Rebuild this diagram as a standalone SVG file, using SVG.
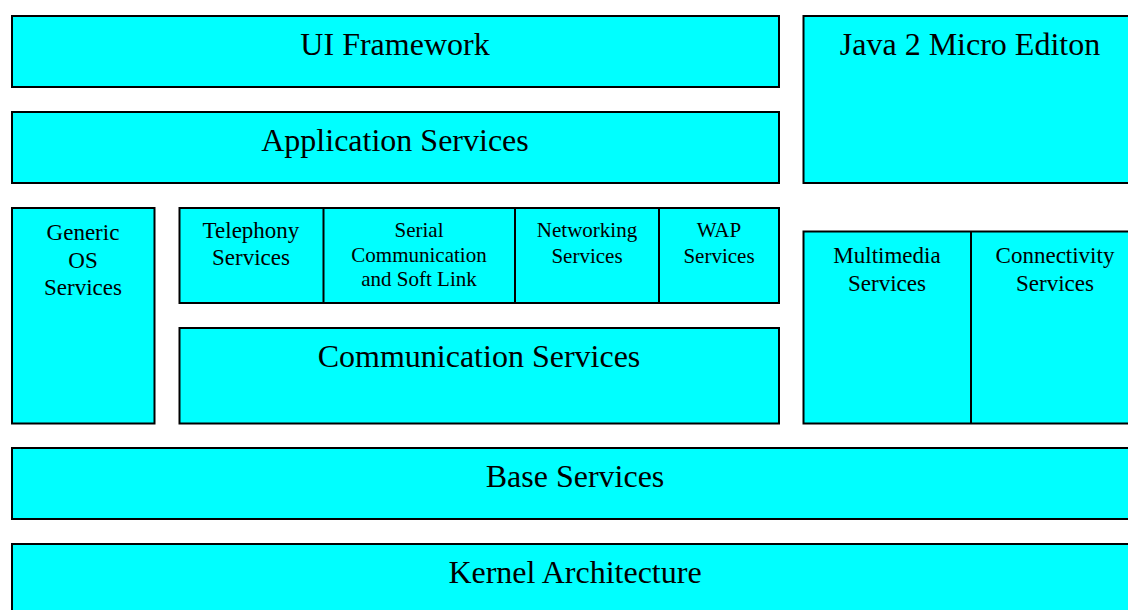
<svg xmlns="http://www.w3.org/2000/svg" width="1128" height="610" viewBox="0 0 1128 610">
  <style>
    .box { fill: #00FFFF; stroke: #000000; stroke-width: 2; }
    .div { stroke: #000000; stroke-width: 2; fill: none; }
    text { font-family: "Liberation Serif", "Times New Roman", serif; fill: #000000; text-anchor: middle; }
    .big { font-size: 32px; }
    .mid { font-size: 23px; }
    .small { font-size: 21px; }
  </style>
  <rect width="1128" height="610" fill="#FFFFFF"/>

  <g id="ui-framework">
    <rect class="box" x="12" y="16" width="767" height="71"/>
    <text class="big" x="395" y="55">UI Framework</text>
  </g>

  <g id="application-services">
    <rect class="box" x="12" y="112" width="767" height="71"/>
    <text class="big" x="395" y="151">Application Services</text>
  </g>

  <g id="java-me">
    <rect class="box" x="803.5" y="16" width="334.5" height="167"/>
    <text class="big" x="970" y="55">Java 2 Micro Editon</text>
  </g>

  <g id="generic-os-services">
    <rect class="box" x="12" y="208" width="142.5" height="215.5"/>
    <text class="mid" x="83" y="240">Generic</text>
    <text class="mid" x="83" y="268">OS</text>
    <text class="mid" x="83" y="295">Services</text>
  </g>

  <g id="comm-modules">
    <rect class="box" x="179.5" y="208" width="599.5" height="95"/>
    <line class="div" x1="323.5" y1="208" x2="323.5" y2="303"/>
    <line class="div" x1="515" y1="208" x2="515" y2="303"/>
    <line class="div" x1="659" y1="208" x2="659" y2="303"/>
  </g>

  <g id="telephony-services">
    <text class="mid" x="251" y="238">Telephony</text>
    <text class="mid" x="251" y="265">Services</text>
  </g>

  <g id="serial-communication">
    <text class="small" x="419" y="237">Serial</text>
    <text class="small" x="419" y="262">Communication</text>
    <text class="small" x="419" y="286">and Soft Link</text>
  </g>

  <g id="networking-services">
    <text class="small" x="587" y="237">Networking</text>
    <text class="small" x="587" y="263">Services</text>
  </g>

  <g id="wap-services">
    <text class="small" x="719" y="237">WAP</text>
    <text class="small" x="719" y="263">Services</text>
  </g>

  <g id="communication-services">
    <rect class="box" x="179.5" y="328" width="599.5" height="95.5"/>
    <text class="big" x="479" y="367">Communication Services</text>
  </g>

  <g id="multimedia-connectivity">
    <rect class="box" x="803.5" y="231.5" width="334.5" height="192"/>
    <line class="div" x1="971" y1="231.5" x2="971" y2="423.5"/>
  </g>

  <g id="multimedia-services">
    <text class="mid" x="887" y="263">Multimedia</text>
    <text class="mid" x="887" y="291">Services</text>
  </g>

  <g id="connectivity-services">
    <text class="mid" x="1055" y="263">Connectivity</text>
    <text class="mid" x="1055" y="291">Services</text>
  </g>

  <g id="base-services">
    <rect class="box" x="12" y="448" width="1126" height="71"/>
    <text class="big" x="575" y="487">Base Services</text>
  </g>

  <g id="kernel-architecture">
    <rect class="box" x="12" y="544" width="1126" height="80"/>
    <text class="big" x="575" y="583">Kernel Architecture</text>
  </g>

  <g id="connectors"></g>
</svg>
